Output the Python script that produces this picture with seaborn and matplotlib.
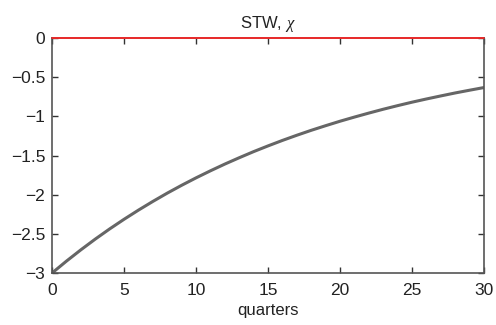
import matplotlib
matplotlib.use("Agg")
import matplotlib.pyplot as plt
import seaborn as sns
import pandas as pd

quarters = list(range(31))
response = [-3.000, -2.848, -2.704, -2.567, -2.437, -2.314, -2.197, -2.086, -1.980, -1.880,
            -1.785, -1.695, -1.609, -1.528, -1.450, -1.377, -1.307, -1.241, -1.178, -1.119,
            -1.062, -1.009, -0.958, -0.909, -0.863, -0.819, -0.778, -0.739, -0.701, -0.666,
            -0.632]
zero_line = [0.0] * 31
xticks = [0, 5, 10, 15, 20, 25, 30]
yticks = [0, -0.5, -1, -1.5, -2, -2.5, -3]
ytick_labels = ["0", "\u22120.5", "\u22121", "\u22121.5", "\u22122", "\u22122.5", "\u22123"]

sns.set_style("ticks")
plt.rcParams['font.family'] = ['Liberation Sans', 'DejaVu Sans']
plt.rcParams['mathtext.fontset'] = 'custom'
plt.rcParams['mathtext.it'] = 'Liberation Serif:italic'

df = pd.DataFrame({"quarters": quarters, "response": response, "zero": zero_line})

fig = plt.figure(figsize=(4.96, 3.25), dpi=100)
ax = fig.add_axes([0.105, 0.16, 0.871, 0.723])

sns.lineplot(data=df, x="quarters", y="response", ax=ax, color="#666666", linewidth=2.2)
sns.lineplot(data=df, x="quarters", y="zero", ax=ax, color="#ff2020", linewidth=1.2, zorder=5, clip_on=False)

ax.set_xlim(0, 30)
ax.set_ylim(-3, 0)
ax.set_xticks(xticks)
ax.set_yticks(yticks)
ax.set_yticklabels(ytick_labels)
ax.tick_params(direction="in", length=4, width=1, colors="#333333", labelsize=12.5,
               top=True, right=True)
ax.tick_params(axis="x", pad=7)
ax.tick_params(axis="y", pad=5)
for lab in ax.get_xticklabels() + ax.get_yticklabels():
    lab.set_color("#222222")
for s in ax.spines.values():
    s.set_visible(True)
    s.set_color("#555555")
    s.set_linewidth(1.2)
ax.set_xlabel("quarters", fontsize=12, color="#222222", labelpad=4)
ax.set_ylabel("")
ax.set_title("STW, $\\chi$", fontsize=12, color="#222222", pad=7)

fig.savefig("out.png", dpi=100)
